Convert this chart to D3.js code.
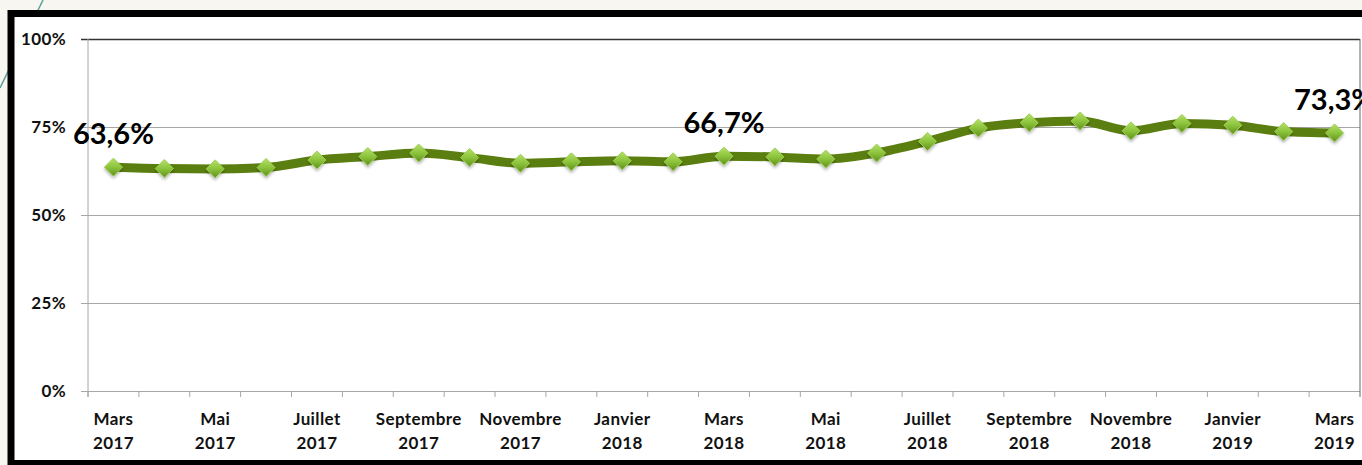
<!DOCTYPE html>
<html>
<head>
<meta charset="utf-8">
<script src="https://cdn.jsdelivr.net/npm/d3@7"></script>
<style>
    body { margin: 0; background: #f7f6f1; }
    #chart { width: 1362px; height: 465px; }
    text { font-family: Lato, 'Open Sans', sans-serif; }
</style>
</head>
<body>
<div id="chart"></div>
<script>
//Données
const mois = ['Mars','Avril','Mai','Juin','Juillet','Août','Septembre','Octobre','Novembre','Décembre','Janvier','Février',
              'Mars','Avril','Mai','Juin','Juillet','Août','Septembre','Octobre','Novembre','Décembre','Janvier','Février','Mars'];
const annees = ['2017','2017','2017','2017','2017','2017','2017','2017','2017','2017','2018','2018',
                '2018','2018','2018','2018','2018','2018','2018','2018','2018','2018','2019','2019','2019'];
const valeurs = [63.6, 63.2, 63.1, 63.5, 65.6, 66.6, 67.6, 66.3, 64.7, 65.1, 65.4, 65.1,
                 66.7, 66.5, 65.9, 67.6, 70.9, 74.7, 76.2, 76.7, 73.9, 76.0, 75.5, 73.7, 73.3];
const etiquettes = [0, 12, 24];
const yTicks = [0, 25, 50, 75, 100];

//Couleurs fixes
const COLOR_LINE = '#5a7e10',
COLOR_GRID = '#a6a6a6';

let data = valeurs.map(function(v, i) { return { key: mois[i] + ' ' + annees[i], mois: mois[i], annee: annees[i], value: v, i: i }; });

let W = 1362, H = 465;
let margin = {top: 39, right: 2, bottom: 74, left: 88};

let svg = d3.select('#chart')
    .append('svg')
        .attr('width', W)
        .attr('height', H);

//Trait diagonal du fond
svg.append('line')
    .attr('x1', 0).attr('y1', 88)
    .attr('x2', 43).attr('y2', 0)
    .attr('stroke', '#5f9c9c')
    .attr('stroke-width', 1.5);

//Cadre
svg.append('rect')
    .attr('x', 11).attr('y', 13.5)
    .attr('width', W + 10).attr('height', H - 13.5 - 1.5)
    .attr('fill', '#ffffff')
    .attr('stroke', '#000')
    .attr('stroke-width', 7);

let x = d3.scaleBand()
    .domain(data.map(function(d) { return d.key; }))
    .range([margin.left, W - margin.right]);

let y = d3.scaleLinear()
    .domain([0, 100])
    .range([H - margin.bottom, margin.top]);

let defs = svg.append('defs');
let grad = defs.append('linearGradient')
    .attr('id', 'diamondGrad')
    .attr('x1', '0').attr('y1', '0').attr('x2', '0').attr('y2', '1');
grad.append('stop').attr('offset', '0%').attr('stop-color', '#b5e06a');
grad.append('stop').attr('offset', '50%').attr('stop-color', '#8cc43c');
grad.append('stop').attr('offset', '100%').attr('stop-color', '#5f8f1c');

let shadow = defs.append('filter').attr('id', 'shadow').attr('x', '-50%').attr('y', '-50%').attr('width', '200%').attr('height', '200%');
shadow.append('feDropShadow').attr('dx', 0).attr('dy', 2).attr('stdDeviation', 1.5).attr('flood-color', '#000').attr('flood-opacity', 0.3);

let clip = defs.append('clipPath').attr('id', 'clipFrame');
clip.append('rect').attr('x', 14).attr('y', 17).attr('width', W).attr('height', H - 20);

//Axe Y
let yAxis = function(g) {
    g.call(d3.axisLeft(y).tickValues(yTicks).tickSize(0).tickPadding(22).tickFormat(function(d) { return d + '%'; }));
    g.call(function(g) { g.select('.domain').remove(); });
    g.selectAll('.tick line')
        .attr('x1', -7)
        .attr('x2', W - margin.right - margin.left)
        .attr('stroke', function(d) { return d == 100 ? '#333' : COLOR_GRID; })
        .attr('stroke-width', function(d) { return d == 100 ? 1.3 : 1; });
    g.selectAll('text')
        .attr('font-size', '17px')
        .attr('font-weight', '700')
        .attr('letter-spacing', '0.4px')
        .attr('fill', '#111');
};

svg.append('g')
    .attr('class', 'yaxis')
    .attr('transform', 'translate(' + margin.left + ',0)')
    .call(yAxis);

//Bordures zone de tracé
svg.append('line')
    .attr('x1', margin.left).attr('x2', margin.left)
    .attr('y1', y(100)).attr('y2', y(0) + 6)
    .attr('stroke', COLOR_GRID);
svg.append('line')
    .attr('x1', W - margin.right).attr('x2', W - margin.right)
    .attr('y1', y(100)).attr('y2', y(0) + 6)
    .attr('stroke', '#666');

//Axe X : graduations entre catégories
svg.append('g')
    .selectAll('line')
    .data(data)
    .enter()
    .append('line')
    .attr('x1', function(d) { return x(d.key); })
    .attr('x2', function(d) { return x(d.key); })
    .attr('y1', y(0))
    .attr('y2', y(0) + 6)
    .attr('stroke', COLOR_GRID);

let xLabels = svg.append('g')
    .selectAll('text')
    .data(data.filter(function(d) { return d.i % 2 == 0; }))
    .enter()
    .append('text')
    .attr('text-anchor', 'middle')
    .attr('font-size', '17px')
    .attr('font-weight', '700')
    .attr('letter-spacing', '0.4px')
    .attr('fill', '#111');
xLabels.append('tspan')
    .attr('x', function(d) { return x(d.key) + x.bandwidth() / 2; })
    .attr('y', y(0) + 34)
    .text(function(d) { return d.mois; });
xLabels.append('tspan')
    .attr('x', function(d) { return x(d.key) + x.bandwidth() / 2; })
    .attr('y', y(0) + 58)
    .text(function(d) { return d.annee; });

//Ligne
let line = d3.line()
    .x(function(d) { return x(d.key) + x.bandwidth() / 2; })
    .y(function(d) { return y(d.value); })
    .curve(d3.curveMonotoneX);

svg.append('path')
    .datum(data)
    .attr('fill', 'none')
    .attr('stroke', COLOR_LINE)
    .attr('stroke-width', 9)
    .attr('stroke-linejoin', 'round')
    .attr('d', line);

//Marqueurs
svg.append('g')
    .selectAll('path')
    .data(data)
    .enter()
    .append('path')
    .attr('transform', function(d) { return 'translate(' + (x(d.key) + x.bandwidth() / 2) + ',' + y(d.value) + ')'; })
    .attr('d', 'M0,-9L9,0L0,9L-9,0Z')
    .attr('fill', 'url(#diamondGrad)')
    .attr('stroke', '#9ccf4e')
    .attr('stroke-width', 1)
    .attr('filter', 'url(#shadow)');

//Étiquettes de données
svg.append('g')
    .attr('clip-path', 'url(#clipFrame)')
    .selectAll('text')
    .data(data.filter(function(d) { return etiquettes.indexOf(d.i) >= 0; }))
    .enter()
    .append('text')
    .attr('x', function(d) { return x(d.key) + x.bandwidth() / 2; })
    .attr('y', function(d) { return y(d.value) - 23; })
    .attr('text-anchor', 'middle')
    .attr('font-size', '29px')
    .attr('font-weight', '700')
    .attr('fill', '#000')
    .text(function(d) { return d3.format('.1f')(d.value).replace('.', ',') + '%'; });
</script>
</body>
</html>
